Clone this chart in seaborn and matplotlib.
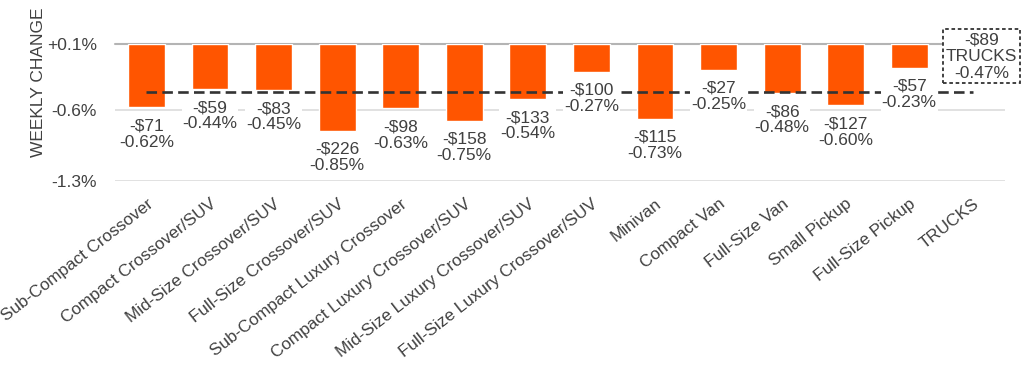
import numpy as np
import pandas as pd
import matplotlib.pyplot as plt
import seaborn as sns

# data
segments = ["Sub-Compact Crossover", "Compact Crossover/SUV", "Mid-Size Crossover/SUV",
            "Full-Size Crossover/SUV", "Sub-Compact Luxury Crossover",
            "Compact Luxury Crossover/SUV", "Mid-Size Luxury Crossover/SUV",
            "Full-Size Luxury Crossover/SUV", "Minivan", "Compact Van", "Full-Size Van",
            "Small Pickup", "Full-Size Pickup", "TRUCKS"]
pct_change = [-0.62, -0.44, -0.45, -0.85, -0.63, -0.75, -0.54, -0.27, -0.73,
              -0.25, -0.48, -0.60, -0.23, np.nan]
dollar_change = [-71, -59, -83, -226, -98, -158, -133, -100, -115, -27, -86, -127, -57, -89]
trucks_avg = -0.47
ytick_pos = [0.0, -0.647, -1.343]
ytick_labels = ["+0.1%", "-0.6%", "-1.3%"]

df = pd.DataFrame({'segment': segments, 'pct': pct_change, 'dollars': dollar_change})

sns.set_style('white')
plt.rcParams['font.family'] = ['Liberation Sans', 'DejaVu Sans']
text_col = '#404040'

fig, ax = plt.subplots(figsize=(10.24, 3.74), dpi=100)
plt.subplots_adjust(left=0.112, right=0.981, top=0.882, bottom=0.516)

sns.barplot(data=df, x='segment', y='pct', order=segments, color='#FF5500',
            saturation=1, width=0.58, ax=ax, zorder=2)

ax.set_ylim(ytick_pos[-1], 0)
ax.set_xlim(-0.5, len(segments) - 0.5)
ax.set_yticks(ytick_pos)
ax.set_yticklabels(ytick_labels, fontsize=12.5, color=text_col)
ax.tick_params(axis='y', length=0, pad=13)
ax.tick_params(axis='x', length=0, pad=11)
ax.set_xticks(range(len(segments)))
ax.set_xticklabels(segments, rotation=38, ha='right', rotation_mode='anchor',
                   fontsize=12.3, color=text_col)
for s in ax.spines.values():
    s.set_visible(False)
ax.yaxis.grid(True, color='#dcdcdc', linewidth=1.2, zorder=0)
ax.set_axisbelow(True)
ax.axhline(0, color='#b4b4b4', linewidth=1.5, zorder=1, clip_on=False)

ax.set_xlabel('')
ax.set_ylabel('WEEKLY CHANGE', fontsize=12.5, color=text_col)
ax.yaxis.set_label_coords(-0.077, 0.72)

# trucks average dashed line
ax.plot([0, len(segments) - 1], [trucks_avg, trucks_avg], color='#333333',
        linewidth=1.9, linestyle=(0, (4, 2)), zorder=3, clip_on=False)

for i, row in df.iterrows():
    if np.isnan(row.pct):
        continue
    ax.annotate(f"-${abs(row.dollars)}\n{row.pct:.2f}%", xy=(i, row.pct),
                xytext=(0, -8), textcoords='offset points', ha='center', va='top',
                fontsize=12.5, color=text_col, linespacing=1.1, zorder=4,
                bbox=dict(boxstyle='square,pad=0.05', fc='white', ec='none'))

ax.text(len(segments) - 1 + 0.14, -0.12,
        f"-${abs(dollar_change[-1])}\nTRUCKS\n{trucks_avg:.2f}%",
        ha='center', va='center', fontsize=12.5, color=text_col, linespacing=1.15,
        zorder=5, clip_on=False,
        bbox=dict(boxstyle='square,pad=0.15', fc='white', ec='#333333',
                  linestyle=(0, (2, 1.5)), linewidth=1.3))

fig.savefig('out.png', dpi=100, facecolor='white')
